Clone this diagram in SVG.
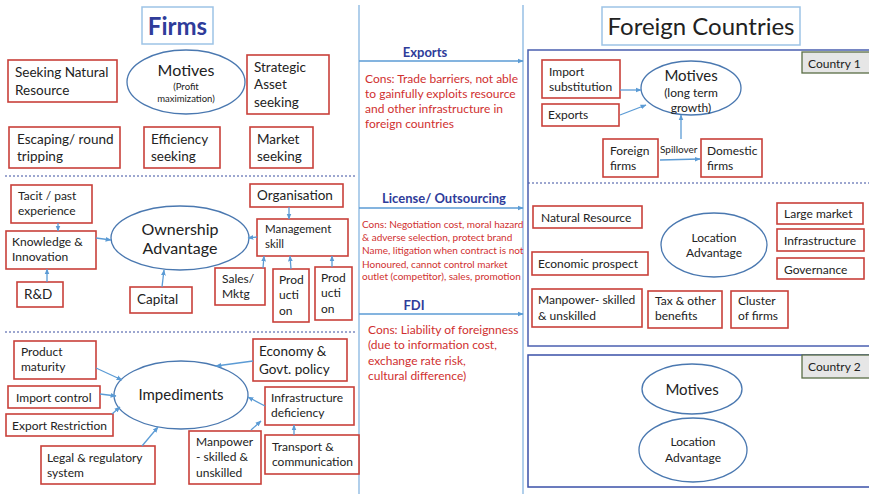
<svg xmlns="http://www.w3.org/2000/svg" width="869" height="494" viewBox="0 0 869 494">
<defs>
<marker id="ah" viewBox="0 0 10 10" refX="9" refY="5" markerWidth="6" markerHeight="6" orient="auto-start-reverse" markerUnits="userSpaceOnUse">
<path d="M0,1 L10,5 L0,9 z" fill="#5b9bd5"/>
</marker>
<style>
text{font-family:Lato,"Open Sans","Liberation Sans",sans-serif;fill:#222}
.box{fill:#fff;stroke:#c9403a;stroke-width:1.6}
.ell{fill:#fff;stroke:#4a78b0;stroke-width:1.3}
.arr{stroke:#5b9bd5;stroke-width:1.3;fill:none;marker-end:url(#ah)}
.vl{stroke:#9dc3e6;stroke-width:1.6}
.dot{stroke:#3a4fa0;stroke-width:1;stroke-dasharray:2,2}
.t14{font-size:13.5px}
.t12{font-size:12px}
.t11{font-size:11.5px}
.lbl{font-weight:bold;fill:#2f3c9a;font-size:13px}
.red{fill:#d03030}
.ctry{fill:#e6e6e6;stroke:#5a6e45;stroke-width:1.3}
.cbox{fill:none;stroke:#4a5fb0;stroke-width:1.5}
.c{text-anchor:middle}
</style>
</defs>
<rect width="869" height="494" fill="#fff"/>

<!-- dividers -->
<g id="dividers">
<line class="vl" x1="359" y1="5" x2="359" y2="494"/>
<line class="vl" x1="523" y1="5" x2="523" y2="494"/>
<line class="dot" x1="5" y1="176" x2="355" y2="176"/>
<line class="dot" x1="5" y1="332" x2="355" y2="332"/>
<line class="dot" x1="528" y1="183" x2="869" y2="183"/>
</g>

<!-- titles -->
<g id="title-firms">
<rect x="142" y="7" width="71" height="37" fill="#fff" stroke="#9dc3e6" stroke-width="1.5"/>
<text x="177.5" y="35" class="c" style="font-size:24px;font-weight:bold;fill:#2f3c9a">Firms</text>
</g>
<g id="title-foreign">
<rect x="602" y="7" width="198" height="38" fill="#fff" stroke="#9dc3e6" stroke-width="1.5"/>
<text x="701" y="35" class="c" style="font-size:24px">Foreign Countries</text>
</g>

<!-- Firms: motives -->
<g id="motives-firm">
<ellipse class="ell" cx="186" cy="82" rx="59" ry="32"/>
<text x="186" y="76" class="c" style="font-size:16px">Motives</text>
<text x="186" y="90" class="c" style="font-size:9.5px">(Profit</text>
<text x="186" y="102" class="c" style="font-size:9.5px">maximization)</text>
</g>
<g id="seeking-natural"><rect class="box" x="8" y="60" width="109" height="42"/><text class="t14" x="15" y="77">Seeking Natural</text><text class="t14" x="15" y="95">Resource</text></g>
<g id="strategic"><rect class="box" x="247" y="55" width="82" height="59"/><text class="t14" x="254" y="72">Strategic</text><text class="t14" x="254" y="89">Asset</text><text class="t14" x="254" y="107">seeking</text></g>
<g id="escaping"><rect class="box" x="9" y="127" width="111" height="41"/><text class="t14" x="17" y="144">Escaping/ round</text><text class="t14" x="17" y="161">tripping</text></g>
<g id="efficiency"><rect class="box" x="144" y="127" width="76" height="41"/><text class="t14" x="151" y="144">Efficiency</text><text class="t14" x="151" y="161">seeking</text></g>
<g id="market"><rect class="box" x="250" y="127" width="63" height="41"/><text class="t14" x="257" y="144">Market</text><text class="t14" x="257" y="161">seeking</text></g>

<!-- Firms: ownership -->
<g id="ownership">
<ellipse class="ell" cx="180" cy="238" rx="69" ry="32"/>
<text x="180" y="235" class="c" style="font-size:16px">Ownership</text>
<text x="180" y="254" class="c" style="font-size:16px">Advantage</text>
</g>
<g id="tacit"><rect class="box" x="11" y="185" width="81" height="38"/><text class="t12" x="18" y="200">Tacit / past</text><text class="t12" x="18" y="215">experience</text></g>
<g id="knowledge"><rect class="box" x="6" y="231" width="90" height="38"/><text class="t12" x="12" y="246">Knowledge &amp;</text><text class="t12" x="12" y="261">Innovation</text></g>
<g id="rnd"><rect class="box" x="17" y="282" width="46" height="25"/><text class="t14" x="24" y="299">R&amp;D</text></g>
<g id="capital"><rect class="box" x="130" y="287" width="62" height="26"/><text class="t14" x="137" y="304">Capital</text></g>
<g id="organisation"><rect class="box" x="250" y="184" width="93" height="23"/><text class="t14" x="257" y="200">Organisation</text></g>
<g id="management"><rect class="box" x="257" y="219" width="91" height="37"/><text class="t11" x="265" y="233">Management</text><text class="t11" x="265" y="248">skill</text></g>
<g id="sales"><rect class="box" x="215" y="268" width="50" height="37"/><text class="t12" x="222" y="283">Sales/</text><text class="t12" x="222" y="298">Mktg</text></g>
<g id="production1"><rect class="box" x="273" y="269" width="36" height="53"/><text class="t12" x="279" y="284">Prod</text><text class="t12" x="279" y="299">ucti</text><text class="t12" x="279" y="315">on</text></g>
<g id="production2"><rect class="box" x="315" y="267" width="37" height="53"/><text class="t12" x="321" y="282">Prod</text><text class="t12" x="321" y="297">ucti</text><text class="t12" x="321" y="313">on</text></g>

<!-- Firms: impediments -->
<g id="impediments">
<ellipse class="ell" cx="181" cy="395" rx="67" ry="34"/>
<text x="181" y="400" class="c" style="font-size:15px">Impediments</text>
</g>
<g id="product-maturity"><rect class="box" x="14" y="341" width="82" height="38"/><text class="t12" x="21" y="356">Product</text><text class="t12" x="21" y="371">maturity</text></g>
<g id="import-control"><rect class="box" x="8" y="386" width="92" height="22"/><text class="t12" x="16" y="402">Import control</text></g>
<g id="export-restriction"><rect class="box" x="6" y="414" width="107" height="22"/><text class="t12" x="12" y="430">Export Restriction</text></g>
<g id="legal"><rect class="box" x="41" y="446" width="114" height="38"/><text class="t12" x="47" y="462">Legal &amp; regulatory</text><text class="t12" x="47" y="477">system</text></g>
<g id="economy"><rect class="box" x="253" y="339" width="94" height="42"/><text class="t14" x="259" y="356">Economy &amp;</text><text class="t14" x="259" y="374">Govt. policy</text></g>
<g id="infra-deficiency"><rect class="box" x="265" y="387" width="89" height="38"/><text class="t12" x="271" y="402">Infrastructure</text><text class="t12" x="271" y="417">deficiency</text></g>
<g id="manpower-firm"><rect class="box" x="189" y="431" width="72" height="53"/><text class="t12" x="196" y="446">Manpower</text><text class="t12" x="196" y="461"> - skilled &amp;</text><text class="t12" x="196" y="477">unskilled</text></g>
<g id="transport"><rect class="box" x="265" y="435" width="94" height="39"/><text class="t12" x="272" y="451">Transport &amp;</text><text class="t12" x="272" y="466">communication</text></g>

<!-- middle labels -->
<g id="mode-exports">
<text class="lbl c" x="425" y="57">Exports</text>
<text class="red" style="font-size:12px" x="365" y="83">Cons: Trade barriers, not able</text>
<text class="red" style="font-size:12px" x="365" y="98">to gainfully exploits resource</text>
<text class="red" style="font-size:12px" x="365" y="113"> and other infrastructure in</text>
<text class="red" style="font-size:12px" x="365" y="128">foreign countries</text>
</g>
<g id="mode-license">
<text class="lbl c" x="444" y="203">License/ Outsourcing</text>
<text class="red" style="font-size:10px" x="362" y="228">Cons: Negotiation cost, moral hazard</text>
<text class="red" style="font-size:10px" x="362" y="241">&amp; adverse selection, protect brand</text>
<text class="red" style="font-size:10px" x="362" y="254">Name, litigation when contract is not</text>
<text class="red" style="font-size:10px" x="362" y="268">Honoured, cannot control market</text>
<text class="red" style="font-size:10px" x="362" y="280">outlet (competitor), sales, promotion</text>
</g>
<g id="mode-fdi">
<text class="lbl c" x="414" y="310">FDI</text>
<text class="red" style="font-size:12px" x="368" y="334">Cons: Liability of foreignness</text>
<text class="red" style="font-size:12px" x="368" y="349">(due to information cost,</text>
<text class="red" style="font-size:12px" x="368" y="365">exchange rate risk,</text>
<text class="red" style="font-size:12px" x="368" y="380">cultural difference)</text>
</g>

<!-- Country 1 -->
<g id="country1">
<rect class="cbox" x="528" y="50" width="345" height="296"/>
<rect class="ctry" x="802" y="52" width="70" height="21"/>
<text class="t12" x="808" y="68">Country 1</text>
</g>
<g id="motives-c1">
<ellipse class="ell" cx="691" cy="88" rx="50" ry="27"/>
<text x="691" y="81" class="c" style="font-size:15px">Motives</text>
<text x="691" y="97" class="c" style="font-size:12px">(long term</text>
<text x="691" y="112" class="c" style="font-size:12px">growth)</text>
</g>
<g id="import-subst"><rect class="box" x="542" y="60" width="78" height="38"/><text class="t12" x="549" y="76">Import</text><text class="t12" x="549" y="91">substitution</text></g>
<g id="exports-c1"><rect class="box" x="542" y="104" width="77" height="22"/><text class="t12" x="548" y="119">Exports</text></g>
<g id="foreign-firms"><rect class="box" x="603" y="139" width="55" height="38"/><text class="t12" x="610" y="155">Foreign</text><text class="t12" x="610" y="170">firms</text></g>
<g id="domestic-firms"><rect class="box" x="701" y="139" width="61" height="38"/><text class="t12" x="707" y="155">Domestic</text><text class="t12" x="707" y="170">firms</text></g>
<text x="660" y="153" style="font-size:10px">Spillover</text>

<g id="location-c1">
<ellipse class="ell" cx="714" cy="245" rx="53" ry="32"/>
<text x="714" y="242" class="c" style="font-size:12px">Location</text>
<text x="714" y="257" class="c" style="font-size:12px">Advantage</text>
</g>
<g id="natural-resource"><rect class="box" x="533" y="206" width="109" height="22"/><text class="t12" x="541" y="222">Natural Resource</text></g>
<g id="economic-prospect"><rect class="box" x="532" y="252" width="116" height="23"/><text class="t12" x="538" y="268">Economic prospect</text></g>
<g id="manpower-c1"><rect class="box" x="532" y="289" width="110" height="38"/><text class="t12" x="538" y="304">Manpower- skilled</text><text class="t12" x="538" y="320">&amp; unskilled</text></g>
<g id="tax"><rect class="box" x="648" y="291" width="74" height="37"/><text class="t12" x="655" y="305">Tax &amp; other</text><text class="t12" x="655" y="320">benefits</text></g>
<g id="cluster"><rect class="box" x="731" y="291" width="57" height="37"/><text class="t12" x="738" y="305">Cluster</text><text class="t12" x="738" y="320">of firms</text></g>
<g id="large-market"><rect class="box" x="777" y="203" width="86" height="21"/><text class="t12" x="784" y="218">Large market</text></g>
<g id="infrastructure"><rect class="box" x="777" y="229" width="87" height="22"/><text class="t12" x="784" y="245">Infrastructure</text></g>
<g id="governance"><rect class="box" x="777" y="258" width="87" height="21"/><text class="t12" x="784" y="274">Governance</text></g>

<!-- Country 2 -->
<g id="country2">
<rect class="cbox" x="528" y="355" width="345" height="132" style="stroke:#3a50a8"/>
<rect class="ctry" x="802" y="355" width="70" height="23"/>
<text class="t12" x="808" y="371">Country 2</text>
</g>
<g id="motives-c2">
<ellipse class="ell" cx="692" cy="389" rx="50" ry="25"/>
<text x="692" y="395" class="c" style="font-size:15px">Motives</text>
</g>
<g id="location-c2">
<ellipse class="ell" cx="693" cy="450" rx="54" ry="32"/>
<text x="693" y="446" class="c" style="font-size:12px">Location</text>
<text x="693" y="462" class="c" style="font-size:12px">Advantage</text>
</g>

<!-- connectors -->
<g id="connectors">
<line class="arr" x1="359" y1="61" x2="523" y2="61"/>
<line class="arr" x1="359" y1="208" x2="523" y2="208"/>
<line class="arr" x1="359" y1="314" x2="523" y2="314"/>
<line class="arr" x1="58" y1="223" x2="58" y2="231"/>
<line class="arr" x1="96" y1="238" x2="111" y2="240"/>
<line class="arr" x1="47" y1="282" x2="47" y2="269"/>
<line class="arr" x1="162" y1="287" x2="164" y2="270"/>
<line class="arr" x1="257" y1="237" x2="248" y2="238"/>
<line class="arr" x1="289" y1="207" x2="289" y2="219"/>
<line class="arr" x1="263" y1="268" x2="264" y2="256"/>
<line class="arr" x1="291" y1="269" x2="290" y2="256"/>
<line class="arr" x1="332" y1="267" x2="332" y2="256"/>
<line class="arr" x1="96" y1="368" x2="122" y2="380"/>
<line class="arr" x1="100" y1="394" x2="116" y2="396"/>
<line class="arr" x1="112" y1="414" x2="120" y2="407"/>
<line class="arr" x1="142" y1="446" x2="158" y2="427"/>
<line class="arr" x1="253" y1="361" x2="216" y2="366"/>
<line class="arr" x1="265" y1="406" x2="248" y2="397"/>
<line class="arr" x1="251" y1="430" x2="261" y2="421"/>
<line class="arr" x1="294" y1="435" x2="294" y2="425"/>
<line class="arr" x1="620" y1="90" x2="641" y2="90"/>
<line class="arr" x1="620" y1="115" x2="646" y2="105"/>
<line class="arr" x1="660" y1="160" x2="700" y2="159"/>
<line class="arr" x1="681" y1="139" x2="681" y2="115"/>
</g>
</svg>
